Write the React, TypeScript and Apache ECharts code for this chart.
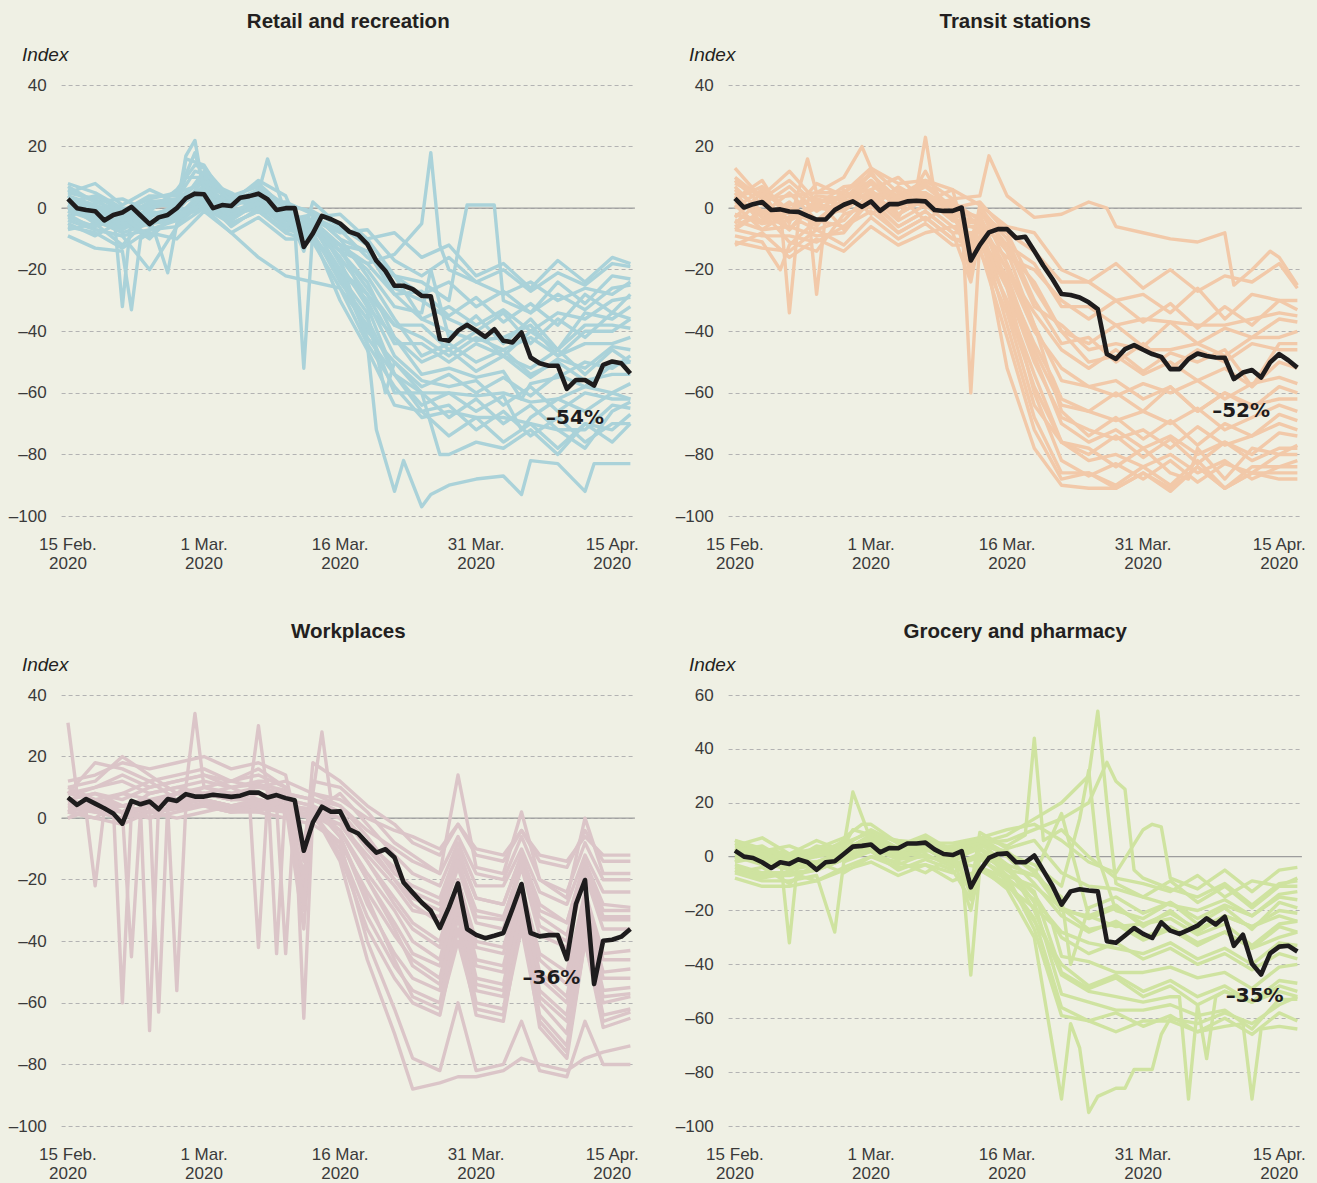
import React, { useEffect, useRef } from "react";
import * as echarts from "echarts";

// ---------- axis / tick data ----------
const X_MIN = -0.7;
const X_MAX = 62.5;
const X_TICK_DAYS = [0, 15, 30, 45, 60];
const X_TICK_LABELS = ["15 Feb.\n2020", "1 Mar.\n2020", "16 Mar.\n2020", "31 Mar.\n2020", "15 Apr.\n2020"];
const TITLES = ["Retail and recreation", "Transit stations", "Workplaces", "Grocery and pharmacy"];
const Y_MAX = [40, 40, 40, 60];
const Y_MIN = -100;

// sample days of the thin country lines (0 = 15 Feb 2020)
const GRID_STD = [0, 3, 6, 9, 12, 15, 18, 21, 24, 27, 30, 33, 36, 39, 42, 45, 48, 51, 54, 57, 60, 62];
const GRID_WORK = [0, 3, 6, 9, 12, 15, 18, 21, 24, 27, 30, 33, 36, 38, 41, 43, 45, 48, 50, 52, 55, 57, 59, 62];

// ---------- median (black) lines, daily 15 Feb – 17 Apr ----------
const BLACK_RETAIL = [3, 0, -0.6, -1, -4, -2.2, -1.4, 0.4, -2.4, -5.2, -3, -2.2, 0, 3.2, 4.7, 4.5, 0, 1, 0.7, 3.4, 3.9, 4.7, 2.9, -0.6, 0, 0, -12.6, -8.2, -2.5, -3.6, -5, -7.6, -8.7, -11.7, -17.1, -20.4, -25.2, -25.2, -26.3, -28.5, -28.6, -42.5, -43.1, -39.8, -37.9, -39.8, -41.8, -39.3, -43.1, -43.6, -40.4, -48.5, -50.4, -51.2, -51.2, -58.7, -55.8, -55.8, -57.6, -50.9, -49.8, -50.4, -53.7];
const BLACK_TRANSIT = [3.2, 0.2, 1.3, 2, -0.6, -0.4, -1.1, -1.2, -2.5, -3.7, -3.7, -0.6, 1.1, 2.2, 0.4, 2.2, -0.9, 1.3, 1.3, 2.2, 2.4, 2.2, -0.6, -0.9, -0.9, 0.2, -17, -11.9, -7.9, -6.8, -6.8, -9.7, -9.3, -13.9, -18.7, -23, -27.9, -28.2, -29, -30.6, -32.8, -47.4, -49, -45.8, -44.5, -46, -47.4, -48.3, -52.3, -52.3, -49, -47.2, -48, -48.5, -48.6, -55.5, -53.4, -52.6, -55, -50.1, -47.4, -49.4, -51.8];
const BLACK_WORK = [6.7, 4.3, 6.2, 4.7, 3.2, 1.5, -1.8, 5.6, 4.5, 5.4, 2.9, 6.2, 5.6, 7.8, 7, 7, 7.6, 7.3, 6.9, 7.3, 8.3, 8.3, 6.7, 7.5, 6.5, 5.8, -10.6, -1.4, 3.7, 2.1, 2.2, -3.6, -5, -8.2, -11.2, -10.1, -12.8, -20.9, -24.2, -27.4, -30.1, -35.7, -29, -21.2, -36, -37.9, -39, -38.2, -37.3, -29.5, -21.4, -37.3, -38.4, -38, -38, -45.8, -27.9, -20.1, -53.9, -39.8, -39.5, -38.5, -36];
const BLACK_GROCERY = [2.2, 0, -0.5, -2.1, -4.2, -2.1, -2.7, -1, -2.1, -4.9, -2.1, -1.7, 1, 3.7, 4, 4.5, 1.6, 3.2, 3.1, 4.9, 4.9, 5.2, 2.7, 1, 0.6, 2, -11.4, -5.2, -0.5, 1, 1.2, -2.1, -2.1, 0.4, -5.2, -10.8, -17.8, -12.9, -12.1, -12.6, -12.9, -31.4, -32, -29.3, -26.5, -28.7, -30.2, -24.4, -27.5, -28.7, -27.2, -25.6, -22.9, -25.2, -22.3, -33.1, -29, -39.8, -43.8, -35.9, -33.4, -33.1, -35.2];

// ---------- country lines (values at GRID days) ----------
const RETAIL_LINES = [
  [5, 8, 1, 6, 2, 10, 4, 7, 1, -3, -2, -10, -8, -16, -12, -22, -18, -26, -17, -24, -16, -18],
  [-3, 1, -5, 2, 0, 7, 1, 5, -2, -4, -8, -7, -17, -22, -16, -24, -20, -27, -21, -25, -18, -19],
  [1, -5, -6, -1, -3, 6, -1, 1, -6, -5, -12, -14, -22, -24, -30, 1, -30, -34, -24, -31, -22, -23],
  [7, 2, 3, -1, 6, 13, 3, 8, 0, 2, -6, -10, -22, -28, -24, -32, -27, -34, -28, -33, -26, -25],
  [-7, -5, -12, -3, -5, 3, -6, 0, -8, -7, -14, -18, -28, -27, -35, -29, -37, -31, -38, -28, -34, -28],
  [3, -3, -32, -6, 2, 4, -2, 1, -4, -2, -10, -14, -28, -36, -32, -38, -33, -40, -34, -36, -30, -29],
  [-5, -9, -4, -10, -1, 2, -3, 3, -6, -4, -12, -20, -32, -34, -42, -35, -44, -36, -46, -34, -36, -32],
  [8, 5, 0, 0, 3, 11, 2, 9, 4, -3, -7, -16, -22, -36, -40, -43, -42, -38, -48, -40, -40, -36],
  [-9, -13, -14, -8, -10, -1, -8, -3, -10, -10, -20, -28, -38, -38, -46, -40, -48, -40, -46, -38, -38, -39],
  [0, -1, -6, -4, -3, 14, 0, 5, -2, -5, -14, -24, -42, -50, -46, -53, -48, -55, -49, -52, -45, -46],
  [4, -1, -4, 2, 3, 9, 5, 0, -1, -7, -12, -32, -42, -54, -52, -55, -53, -57, -55, -50, -52, -48],
  [-2, -7, -9, -20, -6, 3, -5, -1, -7, -9, -22, -34, -50, -58, -54, -60, -55, -61, -54, -58, -51, -50],
  [2, 0, -3, -3, 1, 5, -2, 3, -2, -9, -20, -40, -50, -60, -60, -61, -60, -63, -62, -58, -60, -57],
  [5, 3, -3, 2, 2, 10, 2, 6, 0, -3, -18, -32, -54, -64, -60, -66, -61, -68, -62, -66, -60, -62],
  [-6, -8, -13, -7, -6, 0, -5, -1, -8, -11, -26, -38, -60, -60, -68, -62, -70, -64, -72, -63, -66, -63],
  [3, -4, -5, -5, 0, 5, 3, 0, -1, -7, -16, -44, -58, -68, -66, -68, -68, -70, -72, -72, -64, -65],
  [-1, -4, -8, -5, -4, 5, -3, 1, -6, -9, -30, -46, -64, -66, -74, -68, -76, -70, -78, -70, -72, -67],
  [4, 1, -2, 1, 1, 7, 1, 4, -2, -4, -22, -42, -54, -60, -80, -76, -78, -72, -80, -70, -76, -70],
  [0, -3, -6, -5, -3, 0, -8, -16, -22, -24, -26, -44, -92, -97, -90, -88, -87, -82, -83, -92, -83, -83],
  [-4, -7, -9, -7, -4, 4, -2, 0, -4, -8, -12, -18, -15, -5, -20, -24, -28, -24, -30, -26, -28, -24],
  [2, 4, -1, 3, 5, 8, 3, 5, 1, -1, -6, -12, -26, -30, -36, -40, -34, -44, -36, -42, -34, -36],
  [-1, -3, -7, -2, -1, 9, -1, 2, -3, -6, -16, -28, -44, -44, -50, -44, -48, -52, -46, -54, -46, -50],
  [6, 2, -1, 4, 4, 7, 4, 2, 2, -2, -10, -22, -36, -48, -44, -50, -46, -54, -50, -56, -54, -54],
  [-3, -6, -3, -9, -2, 1, -4, 2, -5, -8, -24, -36, -54, -66, -64, -72, -66, -74, -68, -76, -70, -70],
  [1, -2, -5, 0, 2, 6, 1, 3, -3, -6, -20, -30, -48, -56, -58, -56, -64, -58, -66, -60, -62, -62],
  [3, 0, -4, -2, 0, 12, 2, 4, -1, -5, -14, -26, -38, -42, -48, -42, -46, -42, -48, -44, -44, -42],
];
// extra single-day points: [line, day, value]
const RETAIL_SPIKES = [
  [5, 5, 0], [5, 7, -2], [8, 7, -33], [8, 8, -10], [4, 11, -21], [15, 13, 17], [15, 14, 22], [9, 13, 16], [3, 14, 14], [7, 14, 12], [0, 13, 10],
  [1, 22, 16], [4, 25, -6], [4, 26, -52], [0, 26, -6], [3, 26, -8], [7, 26, -10], [13, 26, -14], [19, 40, 18], [19, 41, -12],
  [2, 43, -14], [2, 44, 1], [2, 47, 1], [18, 34, -72], [18, 37, -82], [18, 40, -93], [18, 50, -93], [18, 58, -83], [17, 41, -80],
  [13, 50, -72], [14, 57, -78], [10, 50, -62], [6, 40, -20], [11, 35, -60], [21, 26, -12], [24, 26, -9], [22, 14, 18],
];

const TRANSIT_LINES = [
  [10, 3, 9, 1, 7, 8, 4, 9, 3, 4, 4, -3, -2, 2, -6, -8, -10, -11, -8, -20, -16, -25],
  [-5, 3, -7, 2, 3, 0, 7, 2, -2, 1, -6, -8, -20, -24, -18, -26, -20, -27, -22, -24, -18, -26],
  [7, -2, 5, -4, 3, 9, 1, 23, 0, 2, -8, -14, -24, -24, -30, -28, -34, -26, -36, -28, -30, -30],
  [-9, -11, -12, -4, -6, 2, -6, -1, -8, -8, -16, -20, -30, -36, -30, -37, -31, -39, -32, -38, -30, -33],
  [3, 9, -5, 5, 5, 13, 5, 5, 0, -1, -12, -18, -32, -32, -38, -36, -37, -38, -38, -36, -34, -35],
  [-7, -1, -34, -7, -4, 5, -2, 3, -4, -4, -14, -24, -40, -44, -38, -45, -37, -44, -39, -42, -36, -37],
  [5, -5, 1, -28, 2, 5, 3, 3, 2, -6, -12, -32, -38, -46, -44, -46, -46, -44, -48, -42, -42, -40],
  [-3, 5, -7, 3, -7, 4, -4, 1, -6, -6, -20, -34, -46, -52, -46, -53, -47, -50, -46, -52, -44, -44],
  [9, 1, 7, -1, 5, 11, 3, 8, 0, 0, -18, -38, -56, -58, -61, -57, -60, -56, -62, -57, -55, -57],
  [-11, -13, -14, -7, -12, -3, -10, -5, -12, -12, -24, -44, -62, -66, -60, -66, -58, -66, -60, -65, -58, -60],
  [1, -7, -1, -5, 2, 5, 2, 1, -1, -10, -22, -46, -64, -66, -69, -66, -70, -65, -72, -68, -64, -66],
  [13, 3, 4, 5, 10, 13, 8, 9, 6, 1, -14, -38, -66, -74, -68, -75, -69, -77, -70, -74, -67, -69],
  [-4, -7, -6, -9, -8, 3, -6, -1, -8, -9, -26, -50, -68, -72, -75, -72, -78, -71, -77, -74, -70, -72],
  [6, -1, -7, 3, 1, 9, 0, 5, -2, -5, -32, -58, -76, -80, -74, -81, -75, -83, -76, -80, -73, -74],
  [-6, -1, -11, -14, -2, 1, -8, -3, -10, -11, -30, -54, -76, -78, -84, -78, -86, -78, -88, -78, -80, -77],
  [3, 7, -1, 4, 3, 11, 2, 7, 0, -3, -26, -60, -82, -87, -83, -88, -82, -89, -83, -86, -80, -80],
  [-2, -5, -4, 0, -1, 6, -3, 12, -4, -7, -38, -68, -86, -86, -90, -84, -90, -82, -91, -84, -84, -82],
  [4, -3, -3, 1, 0, 8, 0, 4, -4, -5, -52, -78, -90, -91, -91, -86, -91, -84, -91, -86, -86, -86],
  [-7, -9, -9, -11, -6, -1, -8, -3, -10, -13, -42, -72, -88, -86, -91, -86, -92, -84, -91, -86, -88, -88],
  [0, 6, -2, 8, 4, 3, 6, 0, 3, -2, -8, -26, -40, -50, -48, -54, -50, -56, -52, -58, -50, -52],
  [-2, -4, 2, -6, 6, -2, 4, -4, 2, -4, -20, -40, -52, -58, -56, -62, -58, -66, -60, -64, -62, -62],
  [8, 4, 12, 2, 4, 6, 10, 2, 6, 0, -10, -30, -44, -42, -50, -44, -52, -46, -50, -44, -46, -46],
  [-12, -8, -16, -10, -14, -6, -12, -8, -6, -14, -34, -64, -76, -82, -80, -84, -80, -86, -82, -88, -84, -84],
  [2, -2, 0, -4, 0, 12, -2, 3, 1, -2, -24, -48, -70, -76, -72, -78, -74, -80, -76, -82, -78, -78],
];
const TRANSIT_SPIKES = [
  [4, 8, 16], [0, 28, 17], [0, 41, 0], [0, 55, -25], [0, 59, -14], [10, 25, -2], [10, 26, -60], [1, 26, -14], [4, 26, -18],
  [8, 26, -20], [12, 26, -24], [5, 5, 0], [5, 7, -4], [6, 8, 2], [6, 10, -2], [2, 20, 6], [2, 22, 5], [3, 5, -20],
  [16, 21, 12], [11, 14, 20], [9, 35, -55], [14, 50, -88], [7, 57, -58], [19, 26, -10], [21, 26, -16], [23, 26, -22],
];

const WORK_LINES = [
  [31, 10, 12, 8, 10, 12, 10, 11, 9, 8, 6, 0, -4, -6, -10, -2, -10, -12, -4, -12, -14, -6, -12, -12],
  [8, 18, 16, 12, 14, 16, 12, 14, 10, 18, 12, 4, -2, -8, -12, -2, -12, -14, -4, -14, -16, -4, -14, -14],
  [6, 8, 4, 6, 8, 10, 8, 30, 8, 6, 4, -4, -10, -14, -18, -6, -18, -20, -6, -20, -24, -8, -20, -20],
  [10, 12, 20, 14, 8, 10, 12, 10, 12, 8, 8, -2, -12, -18, -22, -8, -22, -22, -10, -24, -28, -12, -24, -24],
  [4, 2, 0, 4, 6, 6, 4, 6, 4, 2, 0, -8, -16, -24, -28, -12, -26, -28, -12, -30, -34, -14, -28, -29],
  [2, 0, -60, 2, 4, 6, 4, 6, 4, 2, -2, -14, -26, -34, -40, -20, -40, -42, -22, -44, -50, -24, -44, -43],
  [6, 4, 2, -69, 4, 8, 6, 8, 4, 3, -4, -18, -30, -40, -46, -22, -46, -48, -24, -50, -58, -28, -50, -49],
  [0, -22, 2, 0, -56, 4, 2, 2, 0, -2, -8, -24, -38, -46, -52, -26, -52, -54, -26, -56, -64, -30, -56, -55],
  [8, 6, 4, 6, 6, 8, 6, -42, 6, 4, -6, -28, -44, -52, -56, -30, -56, -58, -28, -60, -70, -34, -60, -58],
  [4, 3, 2, 4, 5, 6, 4, 4, -44, 2, -10, -32, -48, -56, -60, -32, -60, -62, -30, -64, -74, -36, -64, -62],
  [2, 0, -2, 2, 4, 4, 2, 4, 2, 2, -12, -36, -52, -60, -64, -36, -64, -66, -32, -68, -78, -40, -68, -65],
  [5, 4, 2, 4, 6, 8, 6, 6, 4, 2, -14, -46, -70, -88, -86, -84, -84, -82, -78, -80, -82, -78, -76, -74],
  [6, 8, 6, 10, 12, 14, 10, 12, 8, 6, 2, -10, -20, -28, -34, -16, -34, -36, -16, -38, -42, -18, -36, -36],
  [0, 4, 2, 0, 2, 4, 2, 3, 2, 0, -2, -12, -22, -30, -32, -14, -32, -33, -14, -35, -40, -16, -33, -33],
  [3, 2, 0, 2, 3, 5, 3, 4, 2, 0, -8, -40, -62, -78, -82, -60, -82, -80, -66, -82, -84, -66, -80, -80],
  [12, 14, 18, 16, 18, 20, 16, 18, 14, 12, 10, 2, -8, -12, -18, 14, -16, -18, 2, -20, -26, 0, -18, -18],
  [2, 6, 4, 2, 0, 2, 4, 5, 3, 1, -4, -20, -34, -44, -48, -26, -48, -50, -26, -52, -60, -28, -52, -52],
  [8, 10, 14, 10, 12, 14, 12, 16, 10, 8, 4, -6, -18, -22, -26, -10, -26, -28, -12, -28, -34, -14, -30, -30],
  [10, 6, 8, 12, 6, 10, 8, 10, 8, 6, 2, -8, -20, -26, -30, -14, -30, -32, -16, -32, -38, -16, -32, -32],
  [4, 6, 2, 8, 10, 8, 6, 8, 6, 4, 0, -14, -28, -36, -42, -20, -42, -44, -22, -46, -54, -26, -46, -46],
  [2, 4, 8, 6, 4, 8, 10, 6, 4, 2, -4, -20, -36, -48, -54, -28, -54, -56, -30, -58, -66, -32, -58, -57],
  [6, 2, 4, 2, 8, 6, 4, 2, 6, 4, -6, -26, -46, -58, -62, -40, -62, -64, -36, -66, -76, -40, -66, -63],
];
const WORK_SPIKES = [
  [0, 1, 8], [5, 5, 4], [5, 7, 3], [6, 8, 3], [6, 10, 5], [7, 2, 2], [7, 4, 3], [7, 11, 3], [7, 13, 4], [8, 20, 6], [8, 22, 6],
  [9, 23, 4], [9, 25, 4], [10, 25, 3], [10, 26, -65], [3, 13, 10], [3, 14, 34], [2, 20, 8], [2, 22, 8], [3, 28, 28], [3, 29, 6],
  [13, 6, 2], [13, 7, -45], [13, 8, 2], [4, 9, 4], [4, 10, -63], [4, 11, 4], [12, 22, 12], [12, 23, -44],
  [0, 26, -8], [12, 26, -20], [17, 26, -30], [15, 26, -12], [5, 26, -36], [1, 26, -14], [4, 26, -24], [19, 26, -28], [20, 26, -18],
];

const GROCERY_LINES = [
  [4, 7, 1, 6, 2, 8, 6, 5, 5, 7, 10, 12, 6, -2, -6, 10, -8, -12, -5, -13, -5, -4],
  [-2, 3, -5, 1, 4, 6, 3, 7, 1, 7, 4, 44, 10, 0, -8, -10, -13, -7, -15, -9, -11, -8],
  [6, 3, 1, 3, 7, 12, 5, 5, 1, 9, 3, 6, -6, -11, -12, -15, -9, -17, -11, -19, -11, -11],
  [-4, -7, -7, -5, -1, 4, -1, 3, -3, 1, -5, -7, -15, -19, -15, -21, -17, -23, -18, -22, -15, -16],
  [2, -1, -32, 1, 1, 6, 1, 5, -1, 5, 1, -3, -11, 32, -20, -23, -17, -25, -19, -27, -17, -19],
  [-6, -9, -9, -7, -2, 2, -5, -1, -5, -1, -7, -11, -19, -23, -19, -25, -21, -27, -22, -26, -20, -21],
  [0, -3, -3, -3, 1, 6, 1, 4, 0, 3, -3, -7, 16, -22, -26, -25, -23, -29, -25, -33, -25, -24],
  [3, 0, -1, 1, 4, 8, 3, 7, 2, 7, 1, -5, -19, -27, -25, -31, -27, -33, -28, -34, -26, -28],
  [-8, -11, -11, -9, -5, -2, -7, -3, -9, -5, -11, -19, -37, -39, -43, -43, -41, -45, -43, -49, -41, -40],
  [1, -2, -2, -2, 2, 5, 0, 3, -1, 3, -5, -13, -43, -49, -45, -52, -48, -55, -50, -54, -46, -47],
  [5, 2, 1, 2, 5, 9, 3, 6, 1, 5, -3, -17, -51, -54, -57, -57, -55, -59, -57, -64, -53, -53],
  [-3, -6, -6, -5, -1, 2, -3, 1, -4, 0, -9, -23, -56, -61, -58, -63, -59, -65, -60, -66, -58, -61],
  [2, -2, -3, -2, 2, 6, 0, 4, -1, 3, -7, -27, -59, -61, -65, -61, -61, -65, -63, -90, -63, -64],
  [0, -2, -5, -3, -1, 3, -1, 0, -2, -4, -12, -30, -90, -95, -86, -79, -60, -62, -58, -62, -55, -52],
  [-1, 1, -2, 0, 2, 8, 3, 5, 2, 5, 8, 14, 20, 30, -10, -15, -18, -20, -16, -22, -14, -13],
  [4, 2, 0, 2, 4, 10, 5, 6, 3, 5, 6, 10, 14, 20, 28, -8, -12, -15, -10, -18, -10, -9],
  [-5, -8, -6, -9, -4, 0, -4, -3, -6, -4, -8, -16, -28, -32, -34, -36, -32, -38, -34, -40, -32, -33],
  [3, 1, -1, 1, 3, 7, 3, 4, 1, 3, -3, -20, -44, -50, -52, -54, -52, -56, -50, -54, -48, -50],
  [-2, 0, -4, 2, 0, 4, 2, 0, -2, 4, 2, -6, -20, -22, -18, -26, -20, -28, -22, -26, -22, -24],
  [6, 2, 4, 0, 6, 2, 4, 8, 2, 0, -4, -14, -30, -36, -32, -38, -34, -40, -36, -42, -36, -38],
  [-6, -4, -10, -2, -6, 0, -2, -6, 0, -4, -10, -24, -40, -48, -44, -50, -46, -52, -48, -54, -50, -52],
  [2, 4, -2, 4, 2, 6, 0, 2, 4, 6, 0, -10, -22, -28, -24, -30, -26, -32, -28, -34, -30, -28],
];
const GROCERY_SPIKES = [
  [4, 5, 0], [4, 7, 1], [5, 11, -28], [1, 13, 24], [2, 14, 12], [7, 13, 10], [1, 32, 8], [1, 34, 6], [4, 38, 14], [4, 40, 0],
  [12, 56, -62], [12, 58, -64], [17, 49, -52], [17, 50, -90], [17, 51, -55], [17, 52, -75], [17, 53, -52],
  [13, 37, -62], [13, 38, -71], [13, 40, -89], [13, 43, -86], [13, 44, -79], [13, 46, -79], [13, 47, -66],
  [14, 40, 54], [14, 41, 20], [15, 41, 35], [15, 43, 25], [15, 44, -5], [0, 46, 12], [0, 47, 11],
  [2, 26, -12], [5, 26, -16], [9, 26, -10], [16, 25, -4], [16, 26, -44], [8, 35, -25], [3, 37, -40],
  [19, 26, -14], [20, 26, -20],
];

// end-of-period labels: [day, value, text]
const END_LABELS = [
  [55.9, -67.9, "\u201354%"],
  [55.8, -65.5, "\u201352%"],
  [53.3, -51.6, "\u201336%"],
  [57.3, -51.4, "\u201335%"],
];

// ---------- styles ----------
const BG = "#EFF0E4";
const COLORS = ["#AAD2D9", "#F2C9A9", "#DBC5C8", "#CFE3A0"];
const BLACK = "#1E1C1D";
const FONT = "'Liberation Sans', Arial, sans-serif";

const PANELS = [
  { lines: RETAIL_LINES, spikes: RETAIL_SPIKES, grid: GRID_STD, black: BLACK_RETAIL, left: 61.6, top: 85, titleTop: 10 },
  { lines: TRANSIT_LINES, spikes: TRANSIT_SPIKES, grid: GRID_STD, black: BLACK_TRANSIT, left: 728.6, top: 85, titleTop: 10 },
  { lines: WORK_LINES, spikes: WORK_SPIKES, grid: GRID_WORK, black: BLACK_WORK, left: 61.6, top: 695, titleTop: 620 },
  { lines: GROCERY_LINES, spikes: GROCERY_SPIKES, grid: GRID_STD, black: BLACK_GROCERY, left: 728.6, top: 695, titleTop: 620 },
];
const GRID_W = 573.3;
const GRID_H = 431;

function buildLine(grid: number[], vals: number[], spikes: number[][], idx: number) {
  const m = new Map<number, number>();
  grid.forEach((d, i) => m.set(d, vals[i]));
  spikes.filter((s) => s[0] === idx).forEach((s) => m.set(s[1], s[2]));
  return Array.from(m.entries()).sort((a, b) => a[0] - b[0]);
}

function buildOption() {
  const series: any[] = [];
  PANELS.forEach((p, pi) => {
    series.push({
      type: "line",
      xAxisIndex: pi,
      yAxisIndex: pi,
      data: [[X_MIN, 0], [X_MAX, 0]],
      symbol: "none",
      silent: true,
      z: 1,
      lineStyle: { color: "#9d9d9d", width: 1.2 },
    });
    p.lines.forEach((vals, li) => {
      series.push({
        type: "line",
        xAxisIndex: pi,
        yAxisIndex: pi,
        data: buildLine(p.grid, vals, p.spikes, li),
        symbol: "none",
        silent: true,
        z: 2,
        lineStyle: { color: COLORS[pi], width: 3.4, join: "round" },
      });
    });
    const lab = END_LABELS[pi];
    series.push({
      type: "line",
      xAxisIndex: pi,
      yAxisIndex: pi,
      data: p.black.map((v, i) => [i, v]),
      symbol: "none",
      silent: true,
      z: 5,
      lineStyle: { color: BLACK, width: 4.6, join: "round" },
      markPoint: {
        symbol: "circle",
        symbolSize: 0,
        silent: true,
        data: [
          {
            coord: [lab[0], lab[1]],
            label: {
              show: true,
              position: "inside",
              formatter: lab[2] as string,
              fontFamily: "'DejaVu Sans', sans-serif",
              fontWeight: "bold",
              fontSize: 20,
              color: BLACK,
            },
          },
        ],
      },
    });
  });

  return {
    animation: false,
    backgroundColor: BG,
    title: PANELS.map((p, i) => ({
      text: TITLES[i],
      left: p.left + GRID_W / 2,
      top: p.titleTop,
      textAlign: "center",
      padding: 0,
      textStyle: { fontFamily: FONT, fontSize: 20.5, fontWeight: "bold", color: "#231F20" },
    })),
    grid: PANELS.map((p) => ({ left: p.left, top: p.top, width: GRID_W, height: GRID_H })),
    xAxis: PANELS.map((p, i) => ({
      type: "value",
      gridIndex: i,
      min: X_MIN,
      max: X_MAX,
      axisLine: { show: false },
      axisTick: { show: false },
      splitLine: { show: false },
      axisLabel: {
        customValues: X_TICK_DAYS,
        formatter: (v: number) => {
          const k = X_TICK_DAYS.indexOf(Math.round(v));
          return k >= 0 ? X_TICK_LABELS[k] : "";
        },
        fontFamily: FONT,
        fontSize: 17,
        lineHeight: 19,
        color: "#3A3A3A",
        margin: 19,
      },
    })),
    yAxis: PANELS.map((p, i) => ({
      type: "value",
      gridIndex: i,
      min: Y_MIN,
      max: Y_MAX[i],
      interval: 20,
      name: "Index",
      nameLocation: "end",
      nameGap: 21,
      nameTextStyle: {
        fontFamily: FONT,
        fontStyle: "italic",
        fontSize: 19,
        color: "#231F20",
        align: "left",
        padding: [0, 0, 0, -46],
      },
      axisLine: { show: false },
      axisTick: { show: false },
      axisLabel: {
        fontFamily: FONT,
        fontSize: 17,
        color: "#3A3A3A",
        margin: 15,
        formatter: (v: number) => String(v).replace("-", "\u2013"),
      },
      splitLine: { show: true, lineStyle: { type: [4, 3], color: "#B3B3B3", width: 1 } },
    })),
    series,
  };
}

export default function App() {
  const ref = useRef<HTMLDivElement>(null);
  useEffect(() => {
    document.body.style.margin = "0";
    const chart = echarts.init(ref.current!, null, { renderer: "svg" });
    chart.setOption(buildOption() as any);
    return () => chart.dispose();
  }, []);
  return <div ref={ref} style={{ width: 1317, height: 1183, background: BG }} />;
}
